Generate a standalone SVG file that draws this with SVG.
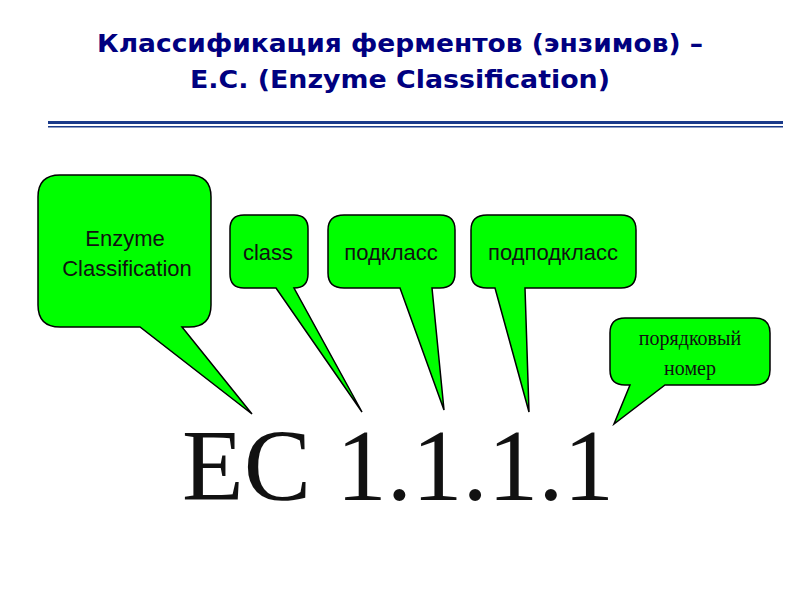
<svg xmlns="http://www.w3.org/2000/svg" width="800" height="600" viewBox="0 0 800 600">
<style>
.b{fill:#00ff00;stroke:#000;stroke-width:1.5;stroke-linejoin:miter}
.t{font-family:"Liberation Sans",Arial,sans-serif;font-size:22px;fill:#111;text-anchor:middle}
.h{font-family:"DejaVu Sans",sans-serif;font-weight:bold;font-size:24px;fill:#000080;text-anchor:middle}
</style>
<rect width="800" height="600" fill="#fff"/>
<text class="h" x="400" y="52" textLength="606" lengthAdjust="spacingAndGlyphs">Классификация ферментов (энзимов) –</text>
<text class="h" x="400" y="88" textLength="420" lengthAdjust="spacingAndGlyphs">E.C. (Enzyme Classification)</text>
<rect x="48" y="121" width="735" height="3" fill="#1a3a8a"/>
<rect x="48" y="126" width="735" height="1.5" fill="#1a3a8a"/>
<g id="connectors"></g>
<g id="n1"><path class="b" d="M60,175 H189 Q211,175 211,197 V305 Q211,327 189,327 H182 L252,414 L140,327 H60 Q38,327 38,305 V197 Q38,175 60,175 Z"/>
<text class="t" x="125" y="246">Enzyme</text><text class="t" x="127" y="276">Classification</text></g>
<g id="n2"><path class="b" d="M244,215 H294 Q308,215 308,229 V274 Q308,288 294,288 L362,412 L276,288 H244 Q230,288 230,274 V229 Q230,215 244,215 Z"/>
<text class="t" x="268" y="260">class</text></g>
<g id="n3"><path class="b" d="M344,215 H440 Q455,215 455,230 V273 Q455,288 440,288 H432 L444,410 L400,288 H344 Q328,288 328,273 V230 Q328,215 344,215 Z"/>
<text class="t" x="391" y="260">подкласс</text></g>
<g id="n4"><path class="b" d="M487,215 H621 Q636,215 636,230 V273 Q636,288 621,288 H525 L529,412 L495,288 H487 Q471,288 471,273 V230 Q471,215 487,215 Z"/>
<text class="t" x="553" y="260">подподкласс</text></g>
<g id="n5"><path class="b" d="M625,318 H755 Q770,318 770,333 V370 Q770,385 755,385 H665 L614,424 L630,385 H625 Q610,385 610,370 V333 Q610,318 625,318 Z"/>
<text x="690" y="345" font-family="Liberation Serif,serif" font-size="20" text-anchor="middle" fill="#111">порядковый</text>
<text x="690" y="375" font-family="Liberation Serif,serif" font-size="20" text-anchor="middle" fill="#111">номер</text></g>
<text x="182" y="500" font-family="Liberation Serif,serif" font-size="101" fill="#111">EC 1.1.1.1</text>
</svg>
